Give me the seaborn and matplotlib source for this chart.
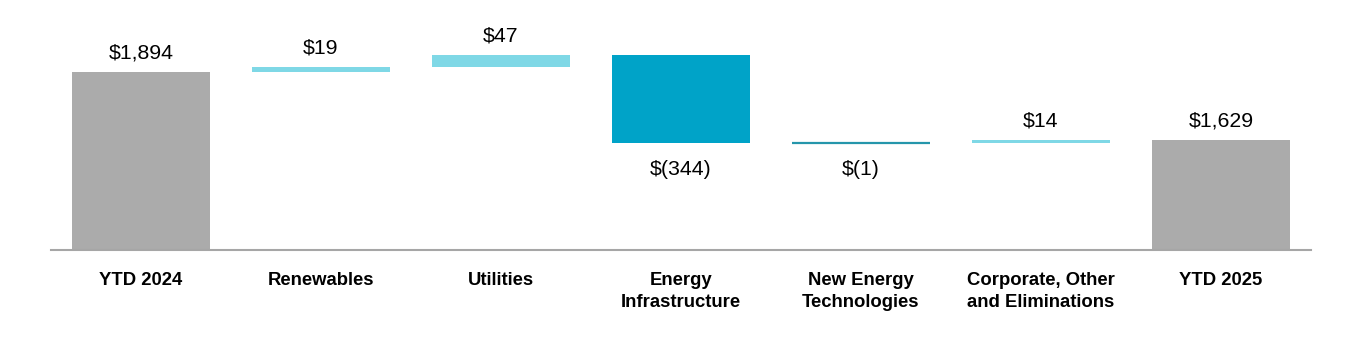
import numpy as np
import pandas as pd
import matplotlib
matplotlib.use("Agg")
import matplotlib.pyplot as plt
import seaborn as sns

categories = ["YTD 2024", "Renewables", "Utilities", "Energy\nInfrastructure",
              "New Energy\nTechnologies", "Corporate, Other\nand Eliminations", "YTD 2025"]
values = [1894, 19, 47, -344, -1, 14, 1629]
is_total = [True, False, False, False, False, False, True]
labels = ["$1,894", "$19", "$47", "$(344)", "$(1)", "$14", "$1,629"]

sns.set_theme(style="white")
plt.rcParams['font.family'] = ['Liberation Sans', 'DejaVu Sans']

# compute waterfall geometry from values
bottoms, heights, ends = [], [], []
running = 0
for v, t in zip(values, is_total):
    if t:
        bottoms.append(0); heights.append(v); running = v
    else:
        start = running
        running = running + v
        bottoms.append(min(start, running)); heights.append(abs(v))
    ends.append(running)

gray = "#ababab"
light = "#7fd8e6"
dark = "#00a3c8"
line_dark = "#2596ab"
colors = []
for v, t in zip(values, is_total):
    if t:
        colors.append(gray)
    elif v >= 0:
        colors.append(light)
    else:
        colors.append(dark if abs(v) > 5 else line_dark)

df = pd.DataFrame({"cat": categories, "h": heights})

fig = plt.figure(figsize=(13.6, 3.5), dpi=100)
ax = fig.add_axes([51/1360, 100/350, 1260/1360, 230/350])
sns.barplot(data=df, x="cat", y="h", bottom=bottoms, width=0.767, color=gray,
            order=categories, ax=ax, errorbar=None, saturation=1)
for p, c in zip(ax.patches, colors):
    p.set_facecolor(c)
    p.set_edgecolor(c)
    p.set_linewidth(1.6 if p.get_height() < 3 else 0)

ax.set_ylim(1200, 2096)
ax.set_xlim(-0.5, 6.5)
ax.set_yticks([])
ax.set_xlabel("")
ax.set_ylabel("")
for s in ["top", "right", "left"]:
    ax.spines[s].set_visible(False)
ax.spines["bottom"].set_color("#a6a6a6")
ax.spines["bottom"].set_linewidth(1.5)
ax.tick_params(axis="x", length=0, pad=16)
for t in ax.get_xticklabels():
    t.set_fontweight("bold")
    t.set_fontsize(13.3)
    t.set_color("black")
    t.set_linespacing(1.38)

for i, (v, t, b, h) in enumerate(zip(values, is_total, bottoms, heights)):
    if v >= 0:
        ax.annotate(labels[i], (i, b + h), xytext=(0, 13.5), textcoords="offset points",
                    ha="center", va="center", fontsize=15.3, color="black")
    else:
        ax.annotate(labels[i], (i, b), xytext=(0, -19), textcoords="offset points",
                    ha="center", va="center", fontsize=15.3, color="black")

fig.savefig("out.png", dpi=100)
